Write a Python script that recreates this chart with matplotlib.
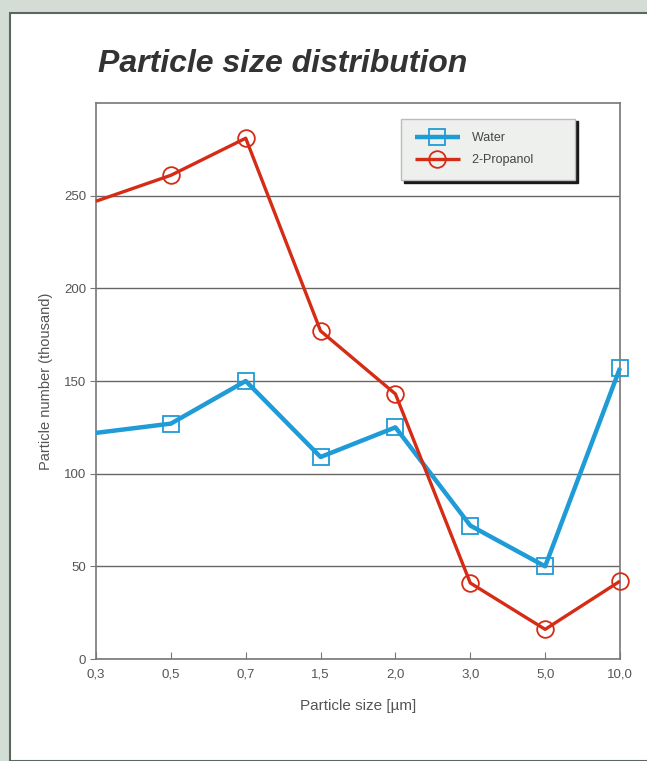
import matplotlib.pyplot as plt
from matplotlib.patches import Rectangle

# ---------------- DATA ----------------
sizes = ["0,3", "0,5", "0,7", "1,5", "2,0", "3,0", "5,0", "10,0"]
water = [122, 127, 150, 109, 125, 72, 50, 157]
propanol = [247, 261, 281, 177, 143, 41, 16, 42]
y_ticks = [0, 50, 100, 150, 200, 250]
# --------------------------------------

plt.rcParams["font.family"] = ["Liberation Sans", "DejaVu Sans"]

fig = plt.figure(figsize=(6.47, 7.61), dpi=100)
fig.patch.set_facecolor("#d3ddd6")

# white card with a dark edge on top / left
card = Rectangle((10 / 647, 0), 1, 1 - 13 / 761, transform=fig.transFigure,
                 facecolor="white", edgecolor="#5a6660", linewidth=1.5, zorder=0)
fig.add_artist(card)

ax = fig.add_axes([96 / 647, 1 - 659 / 761, 524 / 647, 556 / 761])
x = list(range(len(sizes)))

ax.plot(x, water, color="#1f9bd7", lw=3.2, marker="s", markersize=12,
        markerfacecolor="none", markeredgecolor="#1f9bd7", markeredgewidth=1.3,
        markevery=list(range(1, len(sizes))), label="Water", clip_on=False,
        solid_capstyle="butt", zorder=3)
ax.plot(x, propanol, color="#d62b14", lw=2.4, marker="o", markersize=12,
        markerfacecolor="none", markeredgecolor="#d62b14", markeredgewidth=1.3,
        markevery=list(range(1, len(sizes))), label="2-Propanol", clip_on=False,
        solid_capstyle="butt", zorder=4)

ax.set_xlim(0, len(sizes) - 1)
ax.set_ylim(0, 300)
ax.set_xticks(x)
ax.set_xticklabels(sizes)
ax.set_yticks(y_ticks)
ax.tick_params(axis="x", direction="in", length=5, color="#777", labelsize=9.5,
               labelcolor="#555", pad=7)
ax.tick_params(axis="y", direction="out", length=4, color="#777", labelsize=9.5,
               labelcolor="#555", pad=3)
ax.yaxis.grid(True, color="#666", lw=1.0)
ax.set_axisbelow(True)
for s in ax.spines.values():
    s.set_color("#777")
    s.set_linewidth(1.2)

ax.set_xlabel("Particle size [µm]", fontsize=11, color="#555", labelpad=13)
ax.set_ylabel("Particle number (thousand)", fontsize=10.5, color="#555", labelpad=8)

leg = ax.legend(loc="upper right", bbox_to_anchor=(0.915, 0.972), fancybox=False,
                frameon=True, fontsize=9, handlelength=3.6, handletextpad=1.0,
                borderpad=1.1, borderaxespad=0, labelspacing=0.8, edgecolor="#bbb",
                shadow={"color": "#1a1a1a", "alpha": 1.0})
leg.get_frame().set_facecolor("#eef0ee")
for t in leg.get_texts():
    t.set_color("#444")
    t.set_text(t.get_text() + "        ")

fig.text(98 / 647, 1 - 72 / 761, "Particle size distribution", fontsize=23,
         fontweight="bold", fontstyle="italic", color="#333")

fig.savefig("out.png", dpi=100)
